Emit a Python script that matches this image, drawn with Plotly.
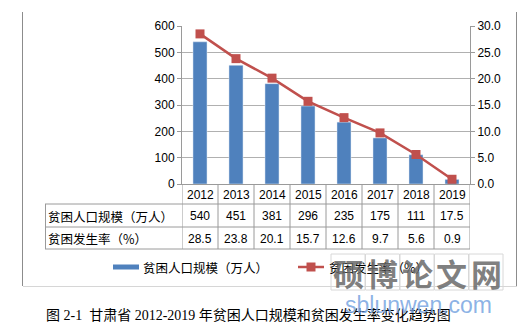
import plotly.graph_objects as go

YEARS = ["2012", "2013", "2014", "2015", "2016", "2017", "2018", "2019"]
POP = [540, 451, 381, 296, 235, 175, 111, 17.5]
RATE = [28.5, 23.8, 20.1, 15.7, 12.6, 9.7, 5.6, 0.9]
POP_NAME = "贫困人口规模（万人）"
RATE_NAME = "贫困发生率（%）"
CAPTION = "图 2-1  甘肃省 2012-2019 年贫困人口规模和贫困发生率变化趋势图"

BLUE = "#4F81BD"
RED = "#C0504D"
GRID = "#b0b0b0"
TLINE = "#9a9a9a"
CJK = "Noto Sans CJK SC, sans-serif"
NUM = "Liberation Sans, Noto Sans CJK SC, sans-serif"

W, H = 520, 324
L, R, T, B = 182, 50, 26, 140
PW, PH = W - L - R, H - T - B


def px(x):
    return (x - L) / PW


def py(y):
    return (H - B - y) / PH


def note(x, y, text, font, xref="paper", xanchor="center"):
    return dict(x=x, y=y, xref=xref, yref="paper", text=text, showarrow=False,
                xanchor=xanchor, yanchor="middle", font=font)


fig = go.Figure()
fig.add_trace(go.Bar(x=YEARS, y=POP, name=POP_NAME, marker_color=BLUE,
                     width=0.39, showlegend=False))
fig.add_trace(go.Scatter(x=YEARS, y=RATE, name=RATE_NAME, yaxis="y2",
                         mode="lines+markers",
                         line=dict(color=RED, width=2.5),
                         marker=dict(symbol="square", size=9, color=RED),
                         showlegend=False))

shapes = []
annos = []
numfont = dict(family=NUM, size=12, color="#000")
cjkfont = dict(family=CJK, size=12.5, color="#000")

# chart frame: left/right sides and a faint bottom edge
for xb in (22, 516):
    annos.append(dict(x=px(xb + 0.5), y=py(149), xref="paper", yref="paper", text="",
                      showarrow=False, width=1, height=274, borderpad=0, borderwidth=0,
                      bgcolor="#8c8c8c", xanchor="center", yanchor="middle"))
annos.append(dict(x=px(269.5), y=py(286.5), xref="paper", yref="paper", text="",
                  showarrow=False, width=494, height=1, borderpad=0, borderwidth=0,
                  bgcolor="#d6d6d6", xanchor="center", yanchor="middle"))

# table grid
row_tops = [184, 204, 227, 249]
for i in range(len(YEARS) + 1):
    shapes.append(dict(type="line", xref="x", yref="paper", x0=i - 0.5, x1=i - 0.5,
                       y0=py(184), y1=py(249), line=dict(color=TLINE, width=1)))
shapes.append(dict(type="line", xref="paper", yref="paper", x0=px(45.5), x1=px(45.5),
                   y0=py(204), y1=py(249), line=dict(color=TLINE, width=1)))
for yy in row_tops[1:]:
    shapes.append(dict(type="line", xref="paper", yref="paper", x0=px(45), x1=1,
                       y0=py(yy), y1=py(yy), line=dict(color=TLINE, width=1)))

for i, yr in enumerate(YEARS):
    annos.append(note(i, py(194.5), yr, numfont, xref="x"))
    annos.append(note(i, py(216), f"{POP[i]:g}", numfont, xref="x"))
    annos.append(note(i, py(238.5), f"{RATE[i]:.1f}", numfont, xref="x"))
for name, yy in [(POP_NAME, 216), (RATE_NAME, 238.5)]:
    annos.append(note(px(46), py(yy), name, cjkfont, xanchor="left"))

# legend (manual)
shapes.append(dict(type="rect", xref="paper", yref="paper", x0=px(113), x1=px(139),
                   y0=py(264.5), y1=py(269.5), fillcolor=BLUE, line=dict(width=0)))
annos.append(note(px(141), py(267), POP_NAME, cjkfont, xanchor="left"))
shapes.append(dict(type="line", xref="paper", yref="paper", x0=px(298), x1=px(324),
                   y0=py(267), y1=py(267), line=dict(color=RED, width=2.5)))
shapes.append(dict(type="rect", xref="paper", yref="paper", x0=px(306.5), x1=px(315.5),
                   y0=py(262.5), y1=py(271.5), fillcolor=RED, line=dict(width=0)))
annos.append(note(px(327), py(267), RATE_NAME, cjkfont, xanchor="left"))

# caption
annos.append(note(px(44), py(315), CAPTION,
                  dict(family="Liberation Serif, Noto Sans CJK SC, serif", size=14,
                       color="#000"), xanchor="left"))

# watermark
WM = ["硕", "博", "论", "文", "网"]
for k, ch in enumerate(WM):
    cx = 348 + k * 34.5
    shapes.append(dict(type="rect", xref="paper", yref="paper", x0=px(cx - 17), x1=px(cx + 17),
                       y0=py(254), y1=py(290), line=dict(color="#d8d8d8", width=1),
                       fillcolor="rgba(255,255,255,0.3)"))
    annos.append(note(px(cx), py(272), f"<b>{ch}</b>",
                      dict(family=CJK, size=31, color="rgba(105,105,105,0.85)")))
annos.append(note(px(418), py(305), "sblunwen.com",
                  dict(family="Liberation Sans, sans-serif", size=23,
                       color="rgba(120,165,225,0.85)")))

fig.update_layout(
    width=W, height=H, margin=dict(l=L, r=R, t=T, b=B),
    paper_bgcolor="white", plot_bgcolor="white",
    showlegend=False,
    xaxis=dict(type="category", range=[-0.5, 7.5], showticklabels=False,
               showline=True, linecolor=TLINE, linewidth=1, ticks="", showgrid=False,
               zeroline=False),
    yaxis=dict(range=[0, 600], dtick=100, showgrid=True, gridcolor=GRID, gridwidth=1,
               showline=True, linecolor=TLINE, ticks="outside", ticklen=4,
               tickcolor=TLINE, zeroline=False, tickfont=numfont),
    yaxis2=dict(range=[0, 30], dtick=5, tickformat=".1f", overlaying="y", side="right",
                showgrid=False, showline=True, linecolor=TLINE, ticks="outside",
                ticklen=4, tickcolor=TLINE, zeroline=False, tickfont=numfont),
    shapes=shapes, annotations=annos,
)

fig.write_html("out.html")
